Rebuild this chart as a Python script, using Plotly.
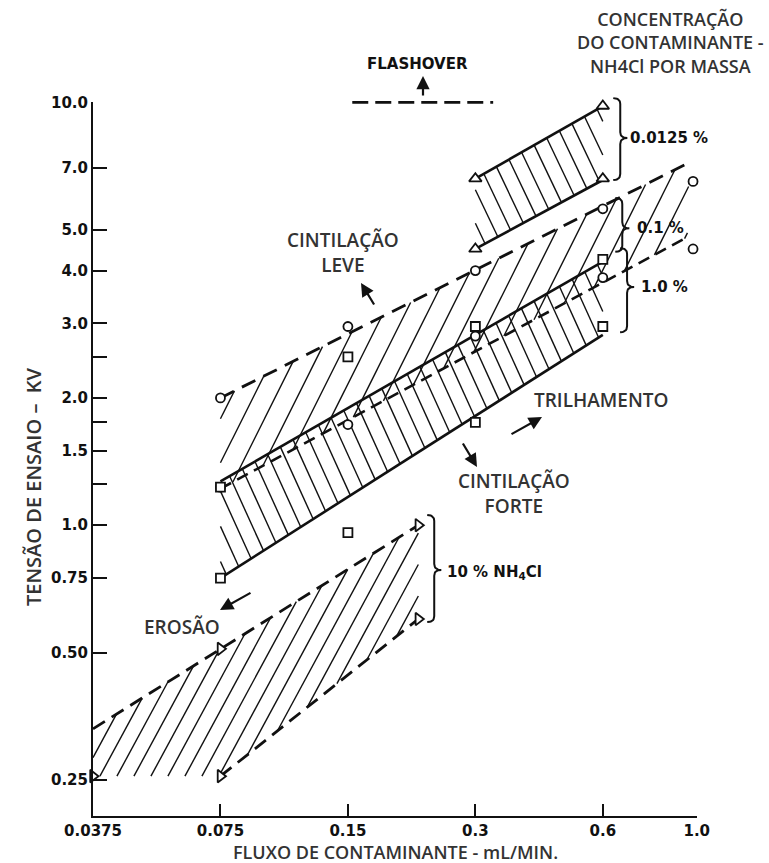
import math
import plotly.graph_objects as go

# ---------------- data ----------------
# 0.0125 % NH4Cl  (open triangles, solid boundaries)
c0125_x = [0.3, 0.6, 0.6, 0.3]
c0125_y = [6.6, 9.8, 6.6, 4.5]
c0125_upper_x = [0.3, 0.6]
c0125_upper_y = [6.6, 9.8]
c0125_lower_x = [0.3, 0.6]
c0125_lower_y = [4.5, 6.55]

# 0.1 % NH4Cl  (open circles, dashed boundaries)
c01_x = [0.075, 0.15, 0.3, 0.6, 0.98, 0.075, 0.15, 0.3, 0.6, 0.98]
c01_y = [2.0, 2.95, 4.0, 5.6, 6.5, 1.23, 1.73, 2.8, 3.85, 4.5]
c01_upper_x = [0.075, 0.96]
c01_upper_y = [2.0, 7.2]
c01_lower_x = [0.075, 0.95]
c01_lower_y = [1.22, 4.8]

# 1.0 % NH4Cl  (open squares, solid boundaries)
c1_x = [0.075, 0.15, 0.3, 0.6, 0.075, 0.15, 0.3, 0.6]
c1_y = [1.23, 2.5, 2.95, 4.25, 0.75, 0.96, 1.75, 2.95]
c1_upper_x = [0.075, 0.6]
c1_upper_y = [1.27, 4.2]
c1_lower_x = [0.075, 0.6]
c1_lower_y = [0.75, 2.82]

# 10 % NH4Cl  (open right triangles, dashed boundaries)
c10_x = [0.0375, 0.075, 0.22, 0.075, 0.22]
c10_y = [0.255, 0.51, 1.0, 0.255, 0.6]
c10_upper_x = [0.0375, 0.22]
c10_upper_y = [0.33, 1.0]
c10_lower_x = [0.075, 0.22]
c10_lower_y = [0.255, 0.6]
c10_floor_y = 0.255

# flashover level
flash_x = [0.1536, 0.3305]
flash_y = [10.0, 10.0]

# braces: left x, top, bottom, tip
brace_x = [0.635, 0.642, 0.659, 0.2309]
brace_top = [10.23, 5.94, 4.52, 1.057]
brace_bot = [6.55, 4.43, 2.86, 0.590]
brace_tip = [8.23, 5.04, 3.66, 0.784]

# axis ticks
x_ticks = [0.0375, 0.075, 0.15, 0.3, 0.6, 1.0]
x_ticktext = ["0.0375", "0.075", "0.15", "0.3", "0.6", "1.0"]
y_ticks = [10.0, 7.0, 5.0, 4.0, 3.0, 2.5, 2.0, 1.75, 1.5, 1.25, 1.0, 0.75, 0.5, 0.25]
y_ticktext = ["10.0", "7.0", "5.0", "4.0", "3.0", "", "2.0", "", "1.5", "", "1.0", "0.75", "0.50", "0.25"]

# ---------------- geometry of the page ----------------
W, H = 769, 863
UX = 423.4   # px per decade, x
VY = 422.9   # px per decade, y
AX_LEFT_PX = 93.0
AX_BOTTOM_PX = 816.0
TOP10_PX = 102.3
X_MIN = 0.0375
X_MAX = 1.0

XL0 = math.log10(X_MIN) - AX_LEFT_PX / UX
XL1 = math.log10(X_MIN) + (W - AX_LEFT_PX) / UX
YL1 = 1 + TOP10_PX / VY
YL0 = 1 - (H - TOP10_PX) / VY
Y2L0 = 1 - (AX_BOTTOM_PX - TOP10_PX) / VY
X2_RIGHT_PX = AX_LEFT_PX + (math.log10(X_MAX) - math.log10(X_MIN)) * UX


def to_uv(x, y):
    return math.log10(x) * UX, math.log10(y) * VY


def from_uv(u, v):
    return 10 ** (u / UX), 10 ** (v / VY)


def hatch(xs, ys, slope, spacing, phase=0.0):
    pts = [to_uv(x, y) for x, y in zip(xs, ys)]
    cs = [v - slope * u for u, v in pts]
    step = abs(slope) * spacing
    cmin, cmax = min(cs), max(cs)
    c = phase + math.ceil((cmin - phase) / step) * step
    n = len(pts)
    hx, hy = [], []
    while c < cmax:
        ts = []
        for i in range(n):
            (u1, v1), (u2, v2) = pts[i], pts[(i + 1) % n]
            f1 = v1 - slope * u1 - c
            f2 = v2 - slope * u2 - c
            if (f1 > 0) != (f2 > 0):
                t = f1 / (f1 - f2)
                ts.append(u1 + t * (u2 - u1))
        ts.sort()
        for j in range(0, len(ts) - 1, 2):
            for uu in (ts[j], ts[j + 1]):
                x, y = from_uv(uu, slope * uu + c)
                hx.append(x)
                hy.append(y)
            hx.append(None)
            hy.append(None)
        c += step
    return hx, hy


def qbez(p0, p1, p2, n=10):
    out = []
    for i in range(n + 1):
        t = i / n
        u = (1 - t) ** 2 * p0[0] + 2 * (1 - t) * t * p1[0] + t * t * p2[0]
        v = (1 - t) ** 2 * p0[1] + 2 * (1 - t) * t * p1[1] + t * t * p2[1]
        out.append((u, v))
    return out


def brace(xl, yt, yb, ym, w=7.0, r=6.0):
    u0 = math.log10(xl) * UX
    vt, vb, vm = math.log10(yt) * VY, math.log10(yb) * VY, math.log10(ym) * VY
    pts = []
    pts += qbez((u0, vt), (u0 + w, vt), (u0 + w, vt - r))
    pts += qbez((u0 + w, vm + r), (u0 + w, vm), (u0 + 2 * w, vm))
    pts += qbez((u0 + 2 * w, vm), (u0 + w, vm), (u0 + w, vm - r))
    pts += qbez((u0 + w, vb + r), (u0 + w, vb), (u0, vb))
    xs, ys = [], []
    for u, v in pts:
        x, y = from_uv(u, v)
        xs.append(x)
        ys.append(y)
    return xs, ys


fig = go.Figure()
BLACK = "#111111"


def add_line(xs, ys, width=2.2, dash="solid"):
    fig.add_trace(go.Scatter(x=xs, y=ys, mode="lines", line=dict(color=BLACK, width=width, dash=dash),
                             hoverinfo="skip", xaxis="x", yaxis="y"))


# ---- hatching ----
hx, hy = hatch(c0125_upper_x + c0125_lower_x[::-1], c0125_upper_y + c0125_lower_y[::-1], -2.1, 16, 5)
add_line(hx, hy, 1.4)
hx, hy = hatch(c01_upper_x + c01_lower_x[::-1], c01_upper_y + c01_lower_y[::-1], 2.0, 22, 3)
add_line(hx, hy, 1.4)
hx, hy = hatch(c1_upper_x + c1_lower_x[::-1], c1_upper_y + c1_lower_y[::-1], -2.2, 16, 7)
add_line(hx, hy, 1.4)
poly10_x = c10_upper_x + c10_lower_x[::-1] + [c10_upper_x[0]]
poly10_y = c10_upper_y + c10_lower_y[::-1] + [c10_floor_y]
hx, hy = hatch(poly10_x, poly10_y, 1.85, 17, 4)
add_line(hx, hy, 1.4)

# ---- boundaries ----
add_line(c0125_upper_x, c0125_upper_y, 2.6)
add_line(c0125_lower_x, c0125_lower_y, 2.6)
add_line(c01_upper_x, c01_upper_y, 2.8, "15px,9px")
add_line(c01_lower_x, c01_lower_y, 2.6, "12px,7px")
add_line(c1_upper_x, c1_upper_y, 2.6)
add_line(c1_lower_x, c1_lower_y, 2.6)
add_line(c10_upper_x, c10_upper_y, 2.8, "14px,8px")
add_line(c10_lower_x, c10_lower_y, 2.8, "14px,8px")
add_line(flash_x, flash_y, 2.8, "16px,7px")

# ---- braces ----
for i in range(len(brace_x)):
    bx, by = brace(brace_x[i], brace_top[i], brace_bot[i], brace_tip[i])
    add_line(bx, by, 2.0)

# ---- markers ----
def add_markers(xs, ys, symbol, size):
    fig.add_trace(go.Scatter(x=xs, y=ys, mode="markers", cliponaxis=False,
                             marker=dict(symbol=symbol, size=size, color="white",
                                         line=dict(color=BLACK, width=1.8)),
                             hoverinfo="skip", xaxis="x", yaxis="y"))


add_markers(c0125_x, c0125_y, "triangle-up", 11)
add_markers(c01_x, c01_y, "circle", 9)
add_markers(c1_x, c1_y, "square", 9)
add_markers(c10_x, c10_y, "triangle-right", 11)

# dummy trace so the framed axes render
fig.add_trace(go.Scatter(x=[X_MIN], y=[1.0], mode="markers", marker=dict(opacity=0),
                         hoverinfo="skip", xaxis="x2", yaxis="y2"))

LEROY = dict(family="DejaVu Sans, Liberation Sans, sans-serif", size=15, color=BLACK, weight="bold")
SANS = dict(family="Open Sans, Noto Sans, sans-serif", size=19, color="#333333", weight=600)

fig.update_layout(
    width=W, height=H, margin=dict(l=0, r=0, t=0, b=0, pad=0, autoexpand=False),
    paper_bgcolor="white", plot_bgcolor="rgba(0,0,0,0)", showlegend=False,
    xaxis=dict(type="log", range=[XL0, XL1], domain=[0, 1], visible=False, anchor="y"),
    yaxis=dict(type="log", range=[YL0, YL1], domain=[0, 1], visible=False, anchor="x"),
    xaxis2=dict(type="log", range=[math.log10(X_MIN), math.log10(X_MAX)],
                domain=[AX_LEFT_PX / W, X2_RIGHT_PX / W], anchor="y2", automargin=False,
                showline=True, linewidth=2, linecolor=BLACK, showgrid=False, zeroline=False,
                ticks="inside", ticklen=12, tickwidth=2, tickcolor=BLACK,
                tickvals=x_ticks, ticktext=x_ticktext, tickfont=LEROY),
    yaxis2=dict(type="log", range=[Y2L0, 1.0],
                domain=[(H - AX_BOTTOM_PX) / H, (H - TOP10_PX) / H], anchor="x2", automargin=False,
                showline=True, linewidth=2, linecolor=BLACK, showgrid=False, zeroline=False,
                ticks="inside", ticklen=14, tickwidth=2, tickcolor=BLACK,
                tickvals=y_ticks, ticktext=y_ticktext, tickfont=LEROY),
)


def px_paper(px, py):
    return px / W, 1 - py / H


annots = []


def text(s, px, py, font, xanchor="center", angle=0, yanchor="middle"):
    x, y = px_paper(px, py)
    annots.append(dict(text=s, x=x, y=y, xref="paper", yref="paper", showarrow=False,
                       xanchor=xanchor, yanchor=yanchor, font=font, textangle=angle,
                       align="center", borderpad=0))


def arrow(hx_, hy_, tx, ty):
    x, y = px_paper(hx_, hy_)
    annots.append(dict(text="", x=x, y=y, xref="paper", yref="paper", showarrow=True,
                       ax=tx - hx_, ay=ty - hy_, arrowhead=2, arrowsize=1.2, arrowwidth=2.2,
                       arrowcolor=BLACK))


text("CINTILAÇÃO<br>LEVE", 343, 253, SANS)
text("CINTILAÇÃO<br>FORTE", 514, 494, SANS)
text("TRILHAMENTO", 601, 400, SANS)
text("EROSÃO", 182, 627, SANS)
text("CONCENTRAÇÃO<br>DO CONTAMINANTE -<br>NH4Cl POR MASSA", 670, 42, dict(SANS, size=18))
text("TENSÃO DE ENSAIO –\u00a0\u00a0KV", 33, 487, dict(SANS, size=20), angle=-90)
text("FLUXO DE CONTAMINANTE - mL/MIN.", 395, 865, dict(SANS, size=18), yanchor="bottom")
text("FLASHOVER", 417, 64, dict(LEROY, size=15))
text("0.0125 %", 629, 138, LEROY, xanchor="left")
text("0.1 %", 636, 228, LEROY, xanchor="left")
text("1.0 %", 640, 287, LEROY, xanchor="left")
text("10 % NH<sub>4</sub>Cl", 446, 572, LEROY, xanchor="left")

arrow(361, 283, 375, 306)
arrow(477, 467, 462, 442)
arrow(542, 417, 510, 435)
arrow(220, 610, 252, 592)
arrow(423, 76, 423, 97)

fig.update_layout(annotations=annots)
fig.write_html("out.html")
